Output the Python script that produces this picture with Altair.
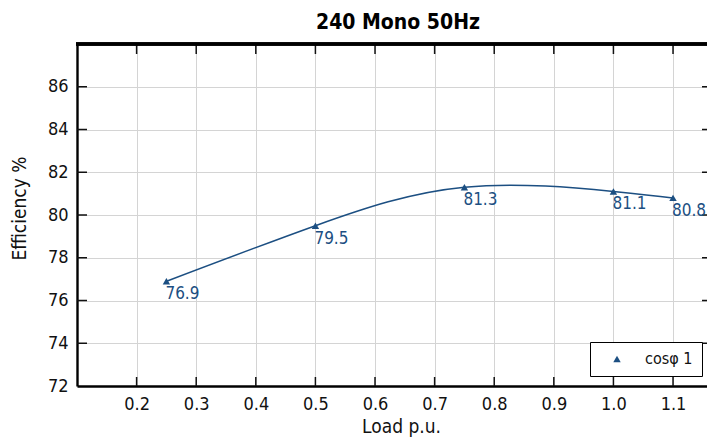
import altair as alt
import pandas as pd

# ---- data ----
load = [0.25, 0.5, 0.75, 1.0, 1.1]
efficiency = [76.9, 79.5, 81.3, 81.1, 80.8]
series_name = "cosφ 1"
x_ticks = [0.2, 0.3, 0.4, 0.5, 0.6, 0.7, 0.8, 0.9, 1.0, 1.1]
y_ticks = [72, 74, 76, 78, 80, 82, 84, 86]
x_domain = [0.1, 1.157]
y_domain = [72, 88]

BLUE = "#1c4f82"
FONT = "DejaVu Sans Condensed, Liberation Sans Narrow, DejaVu Sans"
W, H = 630, 342

df = pd.DataFrame({"load": load, "eff": efficiency, "series": series_name})
df["label"] = [f"{v:.1f}" for v in efficiency]
xt = pd.DataFrame({"load": x_ticks})
yt = pd.DataFrame({"eff": y_ticks[1:]})

xscale = alt.Scale(domain=x_domain, nice=False, zero=False)
yscale = alt.Scale(domain=y_domain, nice=False, zero=False)
xaxis = alt.Axis(values=x_ticks, format=".1f", title="Load p.u.", titleX=324)
yaxis = alt.Axis(values=y_ticks, format="d", title="Efficiency %", titleY=164)
X = alt.X("load:Q", scale=xscale, axis=xaxis)
Y = alt.Y("eff:Q", scale=yscale, axis=yaxis)

base = alt.Chart(df)

line = base.mark_line(interpolate="natural", color=BLUE, strokeWidth=1.5).encode(x=X, y=Y)

points = base.mark_point(filled=True, shape="triangle-up", size=55, opacity=1).encode(
    x=X, y=Y,
    color=alt.Color("series:N", scale=alt.Scale(range=[BLUE]),
                    legend=alt.Legend(title=None, orient="none", legendX=513, legendY=298,
                                      strokeColor="black", fillColor="white", padding=9,
                                      labelFontSize=16, labelFont=FONT, labelColor="#111",
                                      symbolSize=55, symbolOffset=10, labelOffset=20,
                                      symbolType="triangle-up", cornerRadius=0)),
)

labels = base.mark_text(align="left", baseline="top", dx=-1, dy=5, fontSize=17,
                        font=FONT, color=BLUE).encode(x=X, y=Y, text="label:N")

tick_color = "#111"
bottom_ticks = alt.Chart(xt).mark_rule(color=tick_color, strokeWidth=1.5).encode(
    x=X, y=alt.value(H - 9), y2=alt.value(H))
top_ticks = alt.Chart(xt).mark_rule(color=tick_color, strokeWidth=1.5).encode(
    x=X, y=alt.value(0), y2=alt.value(10))
left_ticks = alt.Chart(yt).mark_rule(color=tick_color, strokeWidth=1.5).encode(
    y=Y, x=alt.value(0), x2=alt.value(10))
right_ticks = alt.Chart(yt).mark_rule(color=tick_color, strokeWidth=1.5).encode(
    y=Y, x=alt.value(W - 5), x2=alt.value(W))
top_border = alt.Chart(xt).mark_rule(color="black", strokeWidth=2.4).encode(
    x=alt.value(-1), x2=alt.value(W), y=alt.value(0))

chart = alt.layer(
    line, bottom_ticks, top_ticks, left_ticks, right_ticks, top_border, points, labels
).properties(
    width=W, height=H,
    title=alt.Title("240 Mono 50Hz", fontSize=21, font=FONT, fontWeight="bold",
                    color="black", anchor="middle", offset=10, dx=6),
    autosize=alt.AutoSizeParams(type="none"),
    padding={"left": 69, "top": 36, "right": 0, "bottom": 51},
).configure_view(stroke=None).configure_axis(
    grid=True, gridColor="#d4d4d4", gridWidth=1, ticks=False,
    domainColor="black", domainWidth=2.4,
    labelFont=FONT, labelFontSize=18, labelColor="#111",
    titleFont=FONT, titleFontSize=19, titleFontWeight="normal", titleColor="#111",
).configure_axisX(labelPadding=9, titlePadding=4).configure_axisY(
    labelPadding=9, titlePadding=18)

chart.save("out.html", embed_options={"renderer": "svg", "actions": False})
